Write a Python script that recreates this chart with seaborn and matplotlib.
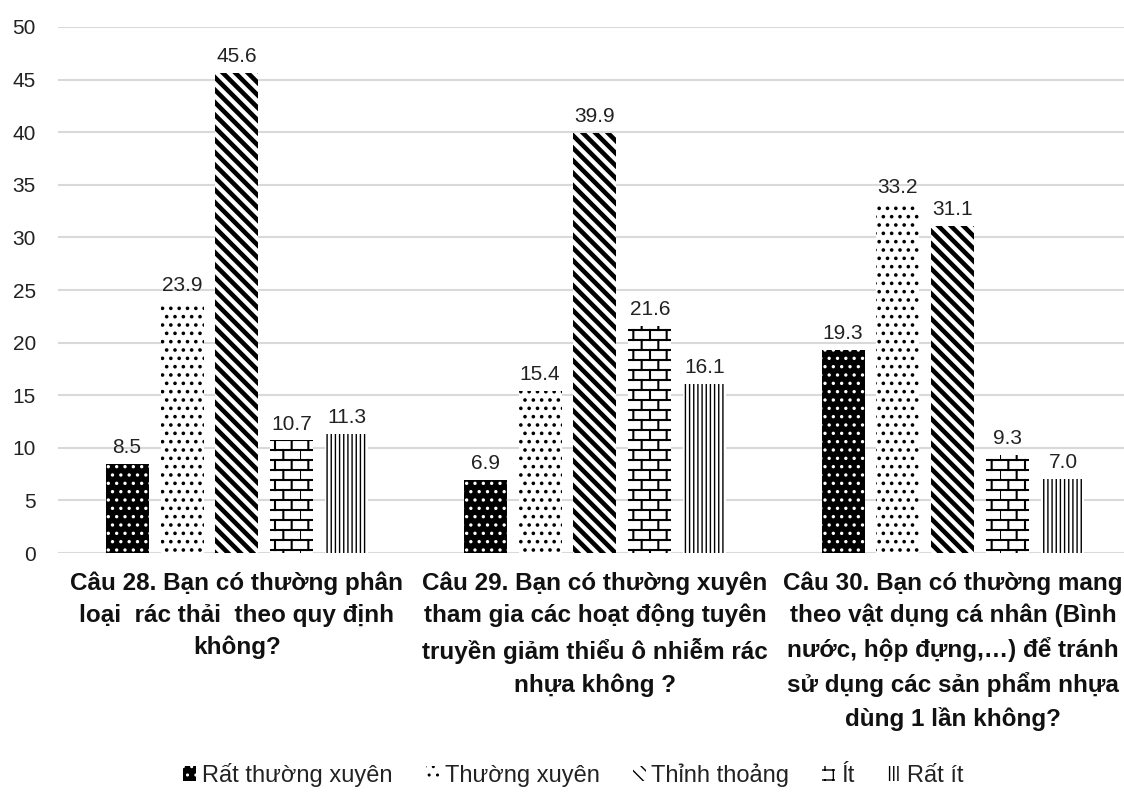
import numpy as np
import pandas as pd
import matplotlib
matplotlib.use("Agg")
import matplotlib.pyplot as plt
from matplotlib import hatch as mhatch
from matplotlib.path import Path
from matplotlib.patches import Patch
import seaborn as sns


# ---- data -------------------------------------------------------------
questions = [
    "Câu 28. Bạn có thường phân\nloại  rác thải  theo quy định\nkhông?",
    "Câu 29. Bạn có thường xuyên\ntham gia các hoạt động tuyên\ntruyền giảm thiểu ô nhiễm rác\nnhựa không ?",
    "Câu 30. Bạn có thường mang\ntheo vật dụng cá nhân (Bình\nnước, hộp đựng,…) để tránh\nsử dụng các sản phẩm nhựa\ndùng 1 lần không?",
]
levels = ["Rất thường xuyên", "Thường xuyên", "Thỉnh thoảng", "Ít", "Rất ít"]
rat_thuong_xuyen = [8.5, 6.9, 19.3]
thuong_xuyen = [23.9, 15.4, 33.2]
thinh_thoang = [45.6, 39.9, 31.1]
it = [10.7, 21.6, 9.3]
rat_it = [11.3, 16.1, 7.0]
y_ticks = [0, 5, 10, 15, 20, 25, 30, 35, 40, 45, 50]


# ---- custom hatches: bricks on '*', wide diagonal stripes on 'o' -------
class BrickHatch(mhatch.HatchPatternBase):
    rows, cols = 10, 6

    def __init__(self, hatch, density):
        self.num_vertices = 0
        if "*" in hatch:
            self.num_vertices = (self.rows + 1) * 2 + self.rows * self.cols * 2

    def set_vertices_and_codes(self, vertices, codes):
        k = 0
        for i in range(self.rows + 1):
            y = i / self.rows
            vertices[k], vertices[k + 1] = (0.0, y), (1.0, y)
            codes[k], codes[k + 1] = Path.MOVETO, Path.LINETO
            k += 2
        for i in range(self.rows):
            y0, y1 = i / self.rows, (i + 1) / self.rows
            off = 0.5 / self.cols if i % 2 else 0.0
            for j in range(self.cols):
                x = j / self.cols + off
                vertices[k], vertices[k + 1] = (x, y0), (x, y1)
                codes[k], codes[k + 1] = Path.MOVETO, Path.LINETO
                k += 2


class StripeHatch(mhatch.HatchPatternBase):
    n = 16

    def __init__(self, hatch, density):
        self.num_vertices = (self.n + 1) * 2 if "o" in hatch else 0

    def set_vertices_and_codes(self, vertices, codes):
        steps = np.linspace(-0.5, 0.5, self.n + 1)
        vertices[0::2, 0] = 0.0 + steps
        vertices[0::2, 1] = 1.0 + steps
        vertices[1::2, 0] = 1.0 + steps
        vertices[1::2, 1] = 0.0 + steps
        codes[0::2] = Path.MOVETO
        codes[1::2] = Path.LINETO


mhatch._hatch_types = [h for h in mhatch._hatch_types
                       if h.__name__ not in ("Stars", "SmallCircles")]
mhatch._hatch_types += [BrickHatch, StripeHatch]


# ---- frame --------------------------------------------------------------
df = pd.DataFrame({
    "cau": np.repeat(questions, len(levels)),
    "muc": levels * len(questions),
    "val": np.ravel(np.column_stack([rat_thuong_xuyen, thuong_xuyen,
                                     thinh_thoang, it, rat_it])),
})

sns.set_theme(style="white")
plt.rcParams["font.family"] = ["Liberation Sans", "DejaVu Sans"]
fs_tick, fs_val, fs_cat, fs_leg = 15, 15, 17.5, 17

fig = plt.figure(figsize=(11.24, 7.94), dpi=100)
ax = fig.add_axes([0.0516, 0.3035, 0.9555, 0.6625])

sns.barplot(data=df, x="cau", y="val", hue="muc", hue_order=levels,
            order=questions, width=0.768, gap=0.218, ax=ax,
            legend=False, errorbar=None)

styles = [
    dict(fc="black", ec="white", hatch="..", hlw=1.2),
    dict(fc="white", ec="black", hatch="..", hlw=1.4),
    dict(fc="white", ec="black", hatch="o", hlw=3.3),
    dict(fc="white", ec="black", hatch="*", hlw=1.5),
    dict(fc="white", ec="black", hatch="||||", hlw=1.0),
]


def style_patch(p, s):
    p.set_facecolor(s["fc"])
    p.set_edgecolor(s["ec"])
    p.set_linewidth(0)
    p.set_hatch(s["hatch"])
    try:
        p.set_hatch_linewidth(s["hlw"])
    except AttributeError:
        p._hatch_linewidth = s["hlw"]


for cont, s in zip(ax.containers, styles):
    for p in cont.patches:
        style_patch(p, s)
    ax.bar_label(cont, fmt="%.1f", padding=5, fontsize=fs_val, color="#222222")

ax.set_xlim(-0.5, 2.5)
ax.set_ylim(0, 50)
ax.set_yticks(y_ticks)
ax.yaxis.grid(True, color="#d9d9d9", linewidth=1.5)
ax.set_axisbelow(True)
for sp in ax.spines.values():
    sp.set_visible(False)
ax.tick_params(axis="y", length=0, labelsize=fs_tick, pad=16, labelcolor="#222222")
ax.tick_params(axis="x", length=0, pad=13)
ax.set_xticks(range(len(questions)))
ax.set_xticklabels(questions, fontsize=fs_cat, fontweight="bold",
                   color="#111111", linespacing=1.5, va="top")
ax.set_xlabel("")
ax.set_ylabel("")

# legend along the bottom edge
handles = []
for s, name in zip(styles, levels):
    h = Patch(label=name)
    style_patch(h, s)
    handles.append(h)
fig.legend(handles=handles, loc="center", bbox_to_anchor=(0.51, 0.024),
           ncol=5, frameon=False, fontsize=fs_leg, handlelength=0.55,
           handleheight=0.55, handletextpad=0.25, columnspacing=1.4,
           labelcolor="#222222", borderaxespad=0)

fig.savefig("out.png", dpi=100)
